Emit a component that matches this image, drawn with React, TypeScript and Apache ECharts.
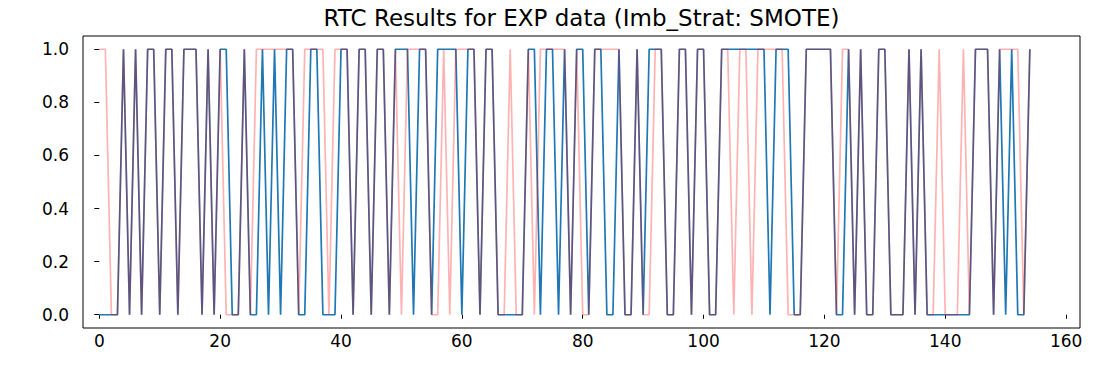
import React, { useEffect, useRef } from "react";
import * as echarts from "echarts";

const chartTitle = "RTC Results for EXP data (Imb_Strat: SMOTE)";

// True class per sample (0/1), samples 0..154
const actual = [
  0, 0, 0, 0, 1, 0, 1, 0, 1, 1,
  0, 1, 1, 0, 1, 1, 1, 0, 1, 0,
  1, 1, 0, 0, 1, 0, 0, 1, 0, 1,
  0, 1, 1, 0, 0, 1, 1, 0, 0, 0,
  1, 1, 0, 1, 1, 0, 1, 1, 0, 1,
  1, 1, 0, 1, 1, 0, 1, 1, 1, 1,
  0, 1, 1, 0, 1, 1, 0, 0, 0, 0,
  0, 1, 1, 0, 1, 1, 0, 1, 0, 1,
  1, 0, 1, 1, 0, 0, 1, 0, 0, 1,
  0, 1, 1, 1, 0, 0, 1, 1, 0, 1,
  1, 0, 0, 1, 1, 1, 1, 1, 1, 1,
  1, 0, 1, 1, 1, 0, 0, 1, 1, 1,
  1, 1, 0, 0, 1, 0, 1, 0, 0, 1,
  1, 0, 0, 0, 1, 0, 1, 0, 0, 0,
  0, 0, 0, 0, 0, 1, 1, 1, 0, 1,
  0, 1, 0, 0, 1,
];

// Predicted class per sample (0/1)
const predicted = [
  1, 1, 0, 0, 1, 0, 1, 0, 1, 1,
  0, 1, 1, 0, 1, 1, 1, 0, 1, 0,
  1, 0, 0, 0, 1, 0, 1, 1, 1, 1,
  1, 1, 1, 0, 1, 1, 1, 1, 0, 1,
  1, 1, 0, 1, 1, 0, 1, 1, 0, 1,
  0, 1, 1, 1, 1, 0, 0, 1, 0, 1,
  1, 1, 1, 0, 1, 1, 0, 0, 1, 0,
  0, 1, 0, 1, 1, 1, 1, 1, 0, 1,
  0, 0, 1, 1, 1, 1, 1, 0, 0, 1,
  0, 0, 1, 1, 0, 0, 1, 1, 0, 1,
  1, 0, 0, 1, 1, 0, 1, 1, 0, 1,
  1, 1, 1, 1, 0, 0, 0, 1, 1, 1,
  1, 1, 0, 1, 1, 0, 1, 0, 0, 1,
  1, 0, 0, 0, 1, 0, 1, 0, 0, 1,
  0, 0, 0, 1, 0, 1, 1, 1, 0, 1,
  1, 1, 1, 0, 1,
];

const xTicks = [0, 20, 40, 60, 80, 100, 120, 140, 160];
const yTicks = [0, 0.2, 0.4, 0.6, 0.8, 1.0];

const FONT = "DejaVu Sans";

export default function App() {
  const ref = useRef<HTMLDivElement>(null);

  useEffect(() => {
    const el = ref.current;
    if (!el) return;
    const chart = echarts.init(el, null, { renderer: "svg" });

    const axisText = { fontFamily: FONT, fontSize: 17, color: "#000" };

    chart.setOption({
      animation: false,
      backgroundColor: "#fff",
      graphic: [
        {
          type: "text",
          x: 581.5,
          y: 18,
          style: {
            text: chartTitle,
            fontFamily: FONT,
            fontSize: 23,
            fill: "#000",
            textAlign: "center",
            textVerticalAlign: "middle",
          },
        },
      ],
      grid: {
        left: 83,
        right: 15,
        top: 36,
        bottom: 37,
        show: true,
        borderColor: "#000",
        borderWidth: 1,
        backgroundColor: "#fff",
      },
      xAxis: {
        type: "value",
        min: -2.7,
        max: 162.3,
        axisLine: { show: false },
        splitLine: { show: false },
        axisTick: {
          show: true,
          length: 4,
          customValues: xTicks,
          lineStyle: { color: "#000", width: 1 },
        },
        axisLabel: {
          ...axisText,
          margin: 4,
          customValues: xTicks,
          formatter: (v: number) => String(v),
        },
      },
      yAxis: {
        type: "value",
        min: -0.05,
        max: 1.05,
        axisLine: { show: false },
        splitLine: { show: false },
        axisTick: {
          show: true,
          length: 5,
          customValues: yTicks,
          lineStyle: { color: "#000", width: 1 },
        },
        axisLabel: {
          ...axisText,
          margin: 14,
          customValues: yTicks,
          formatter: (v: number) => v.toFixed(1),
        },
      },
      series: [
        {
          name: "actual",
          type: "line",
          data: actual.map((v, i) => [i, v]),
          showSymbol: false,
          symbol: "none",
          lineStyle: { color: "#1f77b4", width: 1.7 },
          z: 2,
        },
        {
          name: "predicted",
          type: "line",
          data: predicted.map((v, i) => [i, v]),
          showSymbol: false,
          symbol: "none",
          lineStyle: { color: "rgba(255,0,0,0.3)", width: 1.7 },
          z: 3,
        },
      ],
    });

    return () => chart.dispose();
  }, []);

  return (
    <div
      ref={ref}
      style={{ position: "fixed", left: 0, top: 0, width: 1095, height: 365 }}
    />
  );
}
